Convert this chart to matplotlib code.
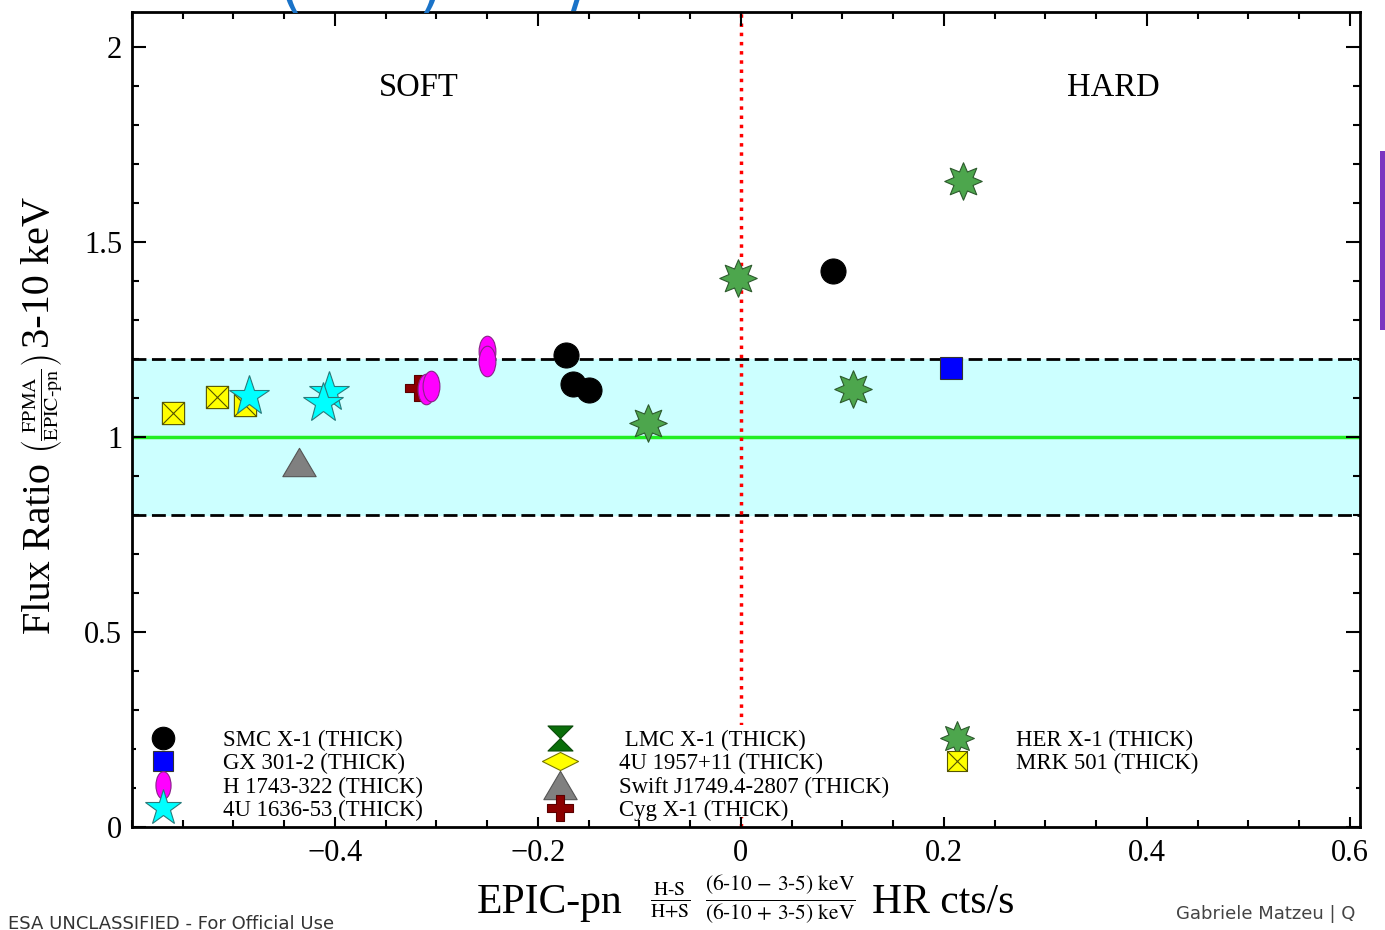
import numpy as np
import matplotlib
matplotlib.use('Agg')
import matplotlib.pyplot as plt
from matplotlib.path import Path
from matplotlib.patches import Rectangle

plt.rcParams['font.family'] = 'serif'
plt.rcParams['font.serif'] = ['Liberation Serif', 'DejaVu Serif']
plt.rcParams['mathtext.fontset'] = 'stix'

# hardness ratio (x) and FPMA / EPIC-pn flux ratio (y) per source
smc_x = [-0.172, -0.165, -0.150, 0.091]
smc_y = [1.210, 1.135, 1.120, 1.426]
gx_x = [0.207]
gx_y = [1.177]
h1743_x = [-0.250, -0.250, -0.310, -0.305]
h1743_y = [1.220, 1.195, 1.123, 1.130]
u1636_x = [-0.485, -0.406, -0.412]
u1636_y = [1.105, 1.115, 1.087]
lmc_x, lmc_y = [], []
u1957_x, u1957_y = [], []
swift_x = [-0.435]
swift_y = [0.936]
cyg_x = [-0.318]
cyg_y = [1.126]
her_x = [0.219, -0.003, 0.110, -0.092]
her_y = [1.656, 1.408, 1.123, 1.036]
mrk_x = [-0.560, -0.516, -0.489]
mrk_y = [1.062, 1.103, 1.082]

band_lo, band_hi = 0.8, 1.2

# custom marker shapes
M, L, C = Path.MOVETO, Path.LINETO, Path.CLOSEPOLY
circ = Path.unit_circle()
ellipse = Path(circ.vertices * [0.55, 1.0], circ.codes)
hourglass = Path([(-1, 1), (1, 1), (-1, -1), (1, -1), (-1, 1)], [M, L, L, L, C])
flat_diamond = Path([(-1, 0), (0, 0.5), (1, 0), (0, -0.5), (-1, 0)], [M, L, L, L, C])
wide_tri = Path([(0, 0.85), (-1, -0.85), (1, -0.85), (0, 0.85)], [M, L, L, C])
ang = np.pi / 2 + np.arange(16) * np.pi / 8
rad = np.where(np.arange(16) % 2 == 0, 1.0, 0.55)
sv = np.column_stack([rad * np.cos(ang), rad * np.sin(ang)])
star8 = Path(np.vstack([sv, sv[:1]]), [M] + [L] * 15 + [C])
box_x = Path([(-1, -1), (1, -1), (1, 1), (-1, 1), (-1, -1),
              (-1, -1), (1, 1), (-1, 1), (1, -1)],
             [M, L, L, L, C, M, L, M, L])
w = 0.28
plus = Path([(-w, 1), (w, 1), (w, w), (1, w), (1, -w), (w, -w), (w, -1),
             (-w, -1), (-w, -w), (-1, -w), (-1, w), (-w, w), (-w, 1)],
            [M] + [L] * 11 + [C])

fig = plt.figure(figsize=(13.85, 9.3), dpi=100)
ax = fig.add_axes([0.0953, 0.1108, 0.8866, 0.8763])

ax.axhspan(band_lo, band_hi, color='#ccffff', zorder=0)
ax.axhline(band_lo, color='black', lw=2, dashes=(5, 2), zorder=1)
ax.axhline(band_hi, color='black', lw=2, dashes=(5, 2), zorder=1)
ax.axhline(1.0, color='#22ee22', lw=2.5, zorder=1)
ax.axvline(0.0, color='red', ls=':', lw=2.5, zorder=1)

ek = dict(ls='none', markeredgewidth=0.8)
h1 = [
    ax.plot(smc_x, smc_y, marker='o', ms=18, color='black', label='SMC X-1 (THICK)', zorder=4, **ek)[0],
    ax.plot(gx_x, gx_y, marker='s', ms=16, color='#0000ff', mec='#333333', label='GX 301-2 (THICK)', zorder=4, **ek)[0],
    ax.plot(h1743_x, h1743_y, marker=ellipse, ms=22, color='#ff00ff', mec='#882288', label='H 1743-322 (THICK)', zorder=4, **ek)[0],
    ax.plot(u1636_x, u1636_y, marker='*', ms=30, color='#00ffff', mec='#2a7a7a', label='4U 1636-53 (THICK)', zorder=4, **ek)[0],
]
h2 = [
    ax.plot(lmc_x, lmc_y, marker=hourglass, ms=18, color='#0a6e0a', mec='#0a4a0a', label=' LMC X-1 (THICK)', zorder=4, **ek)[0],
    ax.plot(u1957_x, u1957_y, marker=flat_diamond, ms=26, color='#ffff00', mec='#777700', label='4U 1957+11 (THICK)', zorder=4, **ek)[0],
    ax.plot(swift_x, swift_y, marker=wide_tri, ms=24, color='#808080', mec='#555555', label='Swift J1749.4-2807 (THICK)', zorder=4, **ek)[0],
    ax.plot(cyg_x, cyg_y, marker=plus, ms=19, color='#8b0000', mec='#5a0000', label='Cyg X-1 (THICK)', zorder=3, **ek)[0],
]
h3 = [
    ax.plot(her_x, her_y, marker=star8, ms=27, color='#4da64d', mec='#2d5a2d', label='HER X-1 (THICK)', zorder=4, **ek)[0],
    ax.plot(mrk_x, mrk_y, marker=box_x, ms=16, color='#ffff00', mec='#555500', label='MRK 501 (THICK)', zorder=3, **ek)[0],
]

ax.set_xlim(-0.6, 0.61)
ax.set_ylim(0, 2.09)
ax.set_xticks([-0.4, -0.2, 0, 0.2, 0.4, 0.6])
ax.set_xticklabels(['\u22120.4', '\u22120.2', '0', '0.2', '0.4', '0.6'])
ax.set_yticks([0, 0.5, 1, 1.5, 2])
ax.set_yticklabels(['0', '0.5', '1', '1.5', '2'])
ax.set_xticks(np.arange(-0.6, 0.61, 0.05), minor=True)
ax.set_yticks(np.arange(0, 2.09, 0.1), minor=True)
ax.tick_params(which='both', direction='in', top=True, right=True, width=1.5, labelsize=22)
ax.tick_params(which='major', length=10)
ax.tick_params(which='minor', length=5)
ax.tick_params(axis='x', pad=9)
ax.tick_params(axis='y', pad=7)
for s in ax.spines.values():
    s.set_linewidth(2)

ax.text(-0.317, 1.895, 'SOFT', fontsize=23.5, ha='center', va='center')
ax.text(0.367, 1.895, 'HARD', fontsize=23.5, ha='center', va='center')

# axis titles built from pieces so the fractions can be set smaller
yl = dict(rotation=90, ha='center', va='center')
fig.text(40 / 1385, 1 - 548 / 930, 'Flux Ratio', fontsize=29, **yl)
fig.text(42 / 1385, 1 - 404 / 930,
         r'$\left(\frac{\mathrm{FPMA}}{\mathrm{EPIC\text{-}pn}}\right)$', fontsize=20.5, **yl)
fig.text(40 / 1385, 1 - 272 / 930, '3-10 keV', fontsize=29, **yl)

xl_y = 1 - 903 / 930
fig.text(550 / 1385, xl_y, 'EPIC-pn', fontsize=30, ha='center', va='center')
fig.text(670 / 1385, xl_y + 0.003, r'$\frac{\mathrm{H\text{-}S}}{\mathrm{H{+}S}}$',
         fontsize=20, ha='center', va='center')
fig.text(780 / 1385, xl_y + 0.003,
         r'$\frac{\mathrm{(6\text{-}10\,-\,3\text{-}5)\ keV}}{\mathrm{(6\text{-}10\,+\,3\text{-}5)\ keV}}$',
         fontsize=22, ha='center', va='center')
fig.text(943 / 1385, xl_y, 'HR cts/s', fontsize=30, ha='center', va='center')

# white strip behind the legend
ax.add_patch(Rectangle((0.003, 0.012), 0.994, 0.113, transform=ax.transAxes,
                       facecolor='white', edgecolor='none', zorder=2))

lkw = dict(loc='upper left', frameon=False, fontsize=16.4, borderpad=0, borderaxespad=0,
           handlelength=1.0, handletextpad=2.1, labelspacing=0.09, numpoints=1)
leg1 = ax.legend(handles=h1, bbox_to_anchor=(0.0163, 0.119), markerscale=0.9, **lkw)
ax.add_artist(leg1)
leg2 = ax.legend(handles=h2, bbox_to_anchor=(0.339, 0.119), **lkw)
ax.add_artist(leg2)
ax.legend(handles=h3, bbox_to_anchor=(0.6625, 0.119), markerscale=0.9, **lkw)

# slide furniture around the chart
fig.text(0.006, -0.003, 'ESA UNCLASSIFIED - For Official Use', family='DejaVu Sans',
         fontsize=13, color='#333333', va='bottom')
fig.text(0.849, 0.007, 'Gabriele Matzeu | Q', family='DejaVu Sans',
         fontsize=13, color='#444444', va='bottom')
fig.patches.append(Rectangle((0.9965, 0.645), 0.01, 0.193, transform=fig.transFigure,
                             facecolor='#7b35c0', edgecolor='none'))
for xf, ch in [(0.201, '('), (0.302, ')'), (0.412, '/')]:
    fig.text(xf, 0.981, ch, family='DejaVu Sans', fontsize=44, color='#1a73c8', va='bottom')

fig.savefig('out.png', dpi=100)
